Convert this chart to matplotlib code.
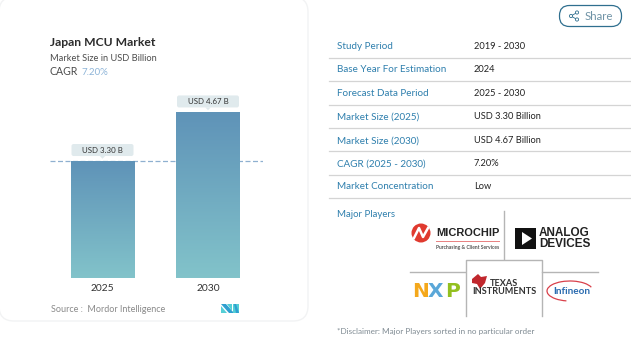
import numpy as np
import matplotlib.pyplot as plt
from matplotlib.patches import FancyBboxPatch, Polygon, Rectangle, Circle, Arc

plt.rcParams['font.family'] = ['Lato', 'DejaVu Sans']

# chart data
years = ['2025', '2030']
values = [3.30, 4.67]
bar_labels = ['USD 3.30 B', 'USD 4.67 B']

# table data
table_keys = ['Study Period', 'Base Year For Estimation', 'Forecast Data Period', 'Market Size (2025)',
              'Market Size (2030)', 'CAGR (2025 - 2030)', 'Market Concentration']
table_vals = ['2019 - 2030', '2024', '2025 - 2030', 'USD 3.30 Billion', 'USD 4.67 Billion', '7.20%', 'Low']

W, H = 631, 352
fig = plt.figure(figsize=(W / 100, H / 100), dpi=100, facecolor='white')

# full figure axes in pixels for the card, table and logos
bg = fig.add_axes([0, 0, 1, 1])
bg.set_xlim(0, W)
bg.set_ylim(H, 0)
bg.axis('off')

bg.add_patch(FancyBboxPatch((-1, -3), 309, 324, boxstyle='round,pad=0,rounding_size=15',
                            fc='white', ec='#f2f3f4', lw=1))

bg.text(50, 42, 'Japan MCU Market', fontsize=8.7, fontweight='bold', color='#2b2b2b', va='center')
bg.text(50, 58.5, 'Market Size in USD Billion', fontsize=6.7, color='#4d4d4d', va='center')
bg.text(50, 75, 'CAGR', fontsize=7.6, color='#4d4d4d', va='baseline')
bg.text(81, 75, '7.20%', fontsize=7.0, color='#8db4d8', va='baseline')

# bars, y scale from the baseline at 278 px (35.45 px per USD billion)
top_px, bottom_px, left_px, right_px = 60, 278, 50, 263
px_per_unit = 35.45
px_per_cat = 105.5
ax = fig.add_axes([left_px / W, 1 - bottom_px / H, (right_px - left_px) / W, (bottom_px - top_px) / H])
ax.patch.set_alpha(0)
for s in ax.spines.values():
    s.set_visible(False)
ax.set_yticks([])
ax.set_xticks([0, 1], years)
ax.tick_params(axis='x', length=0, labelsize=7.4, labelcolor='#333333', pad=4)

grad = np.linspace(0, 1, 100).reshape(-1, 1)
c_top = np.array([0x5f, 0x93, 0xb8]) / 255
c_bot = np.array([0x82, 0xc3, 0xca]) / 255
img = c_top + (c_bot - c_top) * grad[:, :, None].reshape(-1, 1, 1)
bar_width = 0.6
bars = ax.bar(range(len(values)), values, width=bar_width, color='none', zorder=2)
for b, v in zip(bars, values):
    im = ax.imshow(img, extent=[b.get_x(), b.get_x() + bar_width, 0, v], aspect='auto', zorder=2)
    im.set_clip_path(b)
ax.set_xlim((left_px - 102.5) / px_per_cat, (right_px - 102.5) / px_per_cat)
ax.set_ylim(0, (bottom_px - top_px) / px_per_unit)

# dashed line at the first value
ax.axhline(values[0], color='#8fb0d0', lw=0.9, ls=(0, (4, 2)), zorder=1)

# value pills above bars
pill_w = 62 / px_per_cat
pill_h = 12 / px_per_unit
gap = 5 / px_per_unit
for i, v in enumerate(values):
    ax.add_patch(FancyBboxPatch((i - pill_w / 2, v + gap), pill_w, pill_h,
                                boxstyle='round,pad=0,rounding_size=0.02',
                                mutation_aspect=px_per_cat / px_per_unit,
                                fc='#e0eaed', ec='none', zorder=3, clip_on=False))
    ax.add_patch(Polygon([(i - 0.025, v + gap), (i + 0.025, v + gap), (i, v + gap * 0.45)],
                         fc='#e0eaed', ec='none', zorder=3))
    ax.text(i, v + gap + pill_h / 2, bar_labels[i], ha='center', va='center', fontsize=5.7,
            color='#333333', zorder=4)

# source line and small logo
bg.text(51, 310, 'Source :  Mordor Intelligence', fontsize=6.5, color='#8a8a8a', va='center')
bg.add_patch(Polygon([(221, 304), (226, 304), (234, 313), (229, 313)], fc='#2f9fd0'))
bg.add_patch(Polygon([(221, 306), (221, 313), (227, 313)], fc='#55cfd6'))
bg.add_patch(Polygon([(227, 304), (232, 304), (232, 311)], fc='#55cfd6'))
bg.add_patch(Polygon([(233, 304), (239, 304), (239, 313), (233, 313)], fc='#55cfd6'))
bg.add_patch(Polygon([(234, 304), (236, 304), (239, 313), (236, 313)], fc='#2f9fd0'))

# share button
bg.add_patch(FancyBboxPatch((559.5, 5.5), 62, 21, boxstyle='round,pad=0,rounding_size=10',
                            fc='white', ec='#2f6f8f', lw=0.9))
bg.plot([577, 571, 577], [12.5, 16, 19.5], color='#2f6f8f', lw=0.6)
for px, py in [(571, 16), (577, 12.5), (577, 19.5)]:
    bg.add_patch(Circle((px, py), 1.6, fc='white', ec='#2f6f8f', lw=0.6, zorder=3))
bg.text(585, 17, 'Share', fontsize=8.3, color='#6f93a6', va='center')

# table rows
row_y = [46.8, 69.8, 93.8, 116.8, 140.8, 163.8, 186.8]
line_y = [58, 81, 105, 128, 151, 175, 198]
for k, v, y in zip(table_keys, table_vals, row_y):
    bg.text(337, y, k, fontsize=7.1, color='#2e7fad', va='center')
    bg.text(474, y, v, fontsize=6.7, color='#222222', va='center')
for y in line_y:
    bg.plot([329, 630], [y, y], color='#d4d4d4', lw=0.9)

bg.text(337, 214.8, 'Major Players', fontsize=6.9, color='#2e7fad', va='center')

# logo grid
grid_c = '#b5b5b5'
bg.plot([504, 504], [211, 259], color=grid_c, lw=1)
bg.plot([410, 465], [272, 272], color=grid_c, lw=1)
bg.plot([542, 598], [272, 272], color=grid_c, lw=1)
bg.plot([465.5, 465.5, 542, 542], [316, 259.5, 259.5, 316], color=grid_c, lw=1)

logo_font = ['Liberation Sans', 'DejaVu Sans']

# Microchip
bg.add_patch(Circle((421, 233), 9.5, fc='#e03a2f', ec='none'))
bg.plot([414, 419, 423, 428], [238, 228, 237, 228], color='white', lw=1.8)
bg.text(436, 232.5, 'MICROCHIP', fontsize=7.9, fontweight='bold', color='#222222', va='center', family=logo_font)
bg.plot([436, 499], [241, 241], color='#e88080', lw=0.7)
bg.text(436, 247, 'Purchasing & Client Services', fontsize=3.6, fontweight='bold', color='#555555', va='center')

# Analog Devices
bg.add_patch(Rectangle((515, 228), 21, 21, fc='#111111', ec='none'))
bg.add_patch(Polygon([(522, 232), (522, 245), (532, 238.5)], fc='white'))
bg.text(539, 233, 'ANALOG', fontsize=8.5, fontweight='bold', color='#222222', va='center', family=logo_font)
bg.text(539, 244, 'DEVICES', fontsize=8.5, fontweight='bold', color='#222222', va='center', family=logo_font)

# NXP
bg.text(412, 291.5, 'N', fontsize=14.5, fontweight='bold', color='#f4a81c', va='center', family='DejaVu Sans')
bg.text(428, 291.5, 'X', fontsize=14.5, fontweight='bold', color='#5aa7d8', va='center', family='DejaVu Sans')
bg.text(445, 291.5, 'P', fontsize=14.5, fontweight='bold', color='#93c01f', va='center', family='DejaVu Sans')

# Texas Instruments
bg.add_patch(Polygon([(472, 279), (478, 274), (481, 277), (487, 276), (485, 283), (480, 289), (477, 284), (472, 283)],
                     fc='#c0272d'))
bg.text(490, 284, 'TEXAS', fontsize=6.6, fontweight='bold', color='#333333', va='center')
bg.text(472, 292, 'INSTRUMENTS', fontsize=6.6, fontweight='bold', color='#333333', va='center')

# Infineon
bg.add_patch(Arc((570, 291), 46, 20, theta1=110, theta2=350, color='#d9404a', lw=0.9))
bg.text(553, 291, 'Infineon', fontsize=7.2, fontweight='bold', color='#2b6cb0', va='center')

bg.text(337, 331.5, '*Disclaimer: Major Players sorted in no particular order', fontsize=5.9, color='#7f8a92',
        va='center')

plt.savefig('out.png', dpi=100)
